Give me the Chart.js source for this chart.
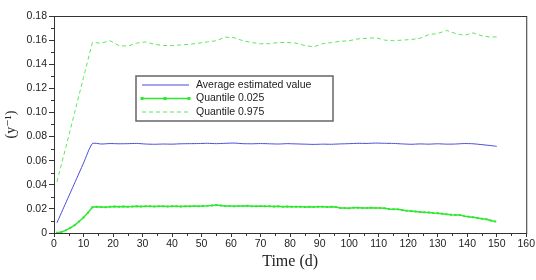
<!DOCTYPE html>
<html>
<head>
<meta charset="utf-8">
<script src="https://cdn.jsdelivr.net/npm/chart.js@4"></script>
<style>
  html, body { margin: 0; padding: 0; background: #fff; }
  #wrap { width: 536px; height: 280px; }
</style>
</head>
<body>
<div id="wrap"><canvas id="quantileChart" width="536" height="280"></canvas></div>
<script>
// time grid of the fine series (every 1.5 d) and the coarse series (every 3 d)
const fineDays = Array.from({ length: 100 }, (_, i) => 1 + 1.5 * i);
const coarseDays = [1, 4, 7, 10, 13, 16, 19, 22, 25, 28, 31, 34, 37, 40, 43, 46, 49, 52, 55, 58,
    61, 64, 67, 70, 73, 76, 79, 82, 85, 88, 91, 94, 97, 100, 103, 106, 109, 112, 115, 118,
    121, 124, 127, 130, 133, 136, 139, 142, 145, 148, 150];

const averageValue = [0.0085, 0.025, 0.0415, 0.058, 0.0742, 0.0738, 0.0742, 0.0740, 0.0741, 0.0743,
    0.0738, 0.0736, 0.0738, 0.0737, 0.0740, 0.0741, 0.0742, 0.0744, 0.0741, 0.0744,
    0.0746, 0.0741, 0.0740, 0.0742, 0.0740, 0.0738, 0.0741, 0.0739, 0.0737, 0.0735,
    0.0737, 0.0736, 0.0739, 0.0741, 0.0744, 0.0743, 0.0746, 0.0744, 0.0743, 0.0739,
    0.0736, 0.0739, 0.0737, 0.0740, 0.0737, 0.0738, 0.0742, 0.0740, 0.0733, 0.0725, 0.0719];

const quantileHigh = [0.0425, 0.071, 0.100, 0.129, 0.158, 0.1575, 0.1595, 0.1555, 0.155, 0.1575,
    0.1585, 0.1565, 0.1555, 0.1555, 0.1560, 0.1565, 0.1575, 0.1585, 0.1595, 0.1625,
    0.1620, 0.1595, 0.1580, 0.1570, 0.1570, 0.1580, 0.1580, 0.1575, 0.1555, 0.1545,
    0.1570, 0.1580, 0.1590, 0.1595, 0.1610, 0.1615, 0.1620, 0.1600, 0.1595, 0.1600,
    0.1605, 0.1615, 0.1645, 0.1655, 0.1680, 0.1655, 0.1640, 0.1660, 0.1635, 0.1625, 0.1627];

const quantileLow = [0.0002, 0.0008, 0.0022, 0.0042, 0.0065, 0.0095, 0.0128, 0.0168, 0.0213, 0.0217,
    0.0216, 0.0213, 0.0218, 0.0219, 0.0218, 0.0219, 0.0218, 0.0219, 0.0221, 0.0220,
    0.0222, 0.0221, 0.0220, 0.0222, 0.0221, 0.0220, 0.0221, 0.0222, 0.0220, 0.0221,
    0.0222, 0.0223, 0.0222, 0.0224, 0.0225, 0.0228, 0.0232, 0.0229, 0.0224, 0.0223,
    0.0221, 0.0224, 0.0223, 0.0226, 0.0222, 0.0221, 0.0223, 0.0222, 0.0221, 0.0220,
    0.0221, 0.0218, 0.0219, 0.0217, 0.0218, 0.0217, 0.0216, 0.0217, 0.0215, 0.0218,
    0.0217, 0.0216, 0.0217, 0.0215, 0.0208, 0.0207, 0.0206, 0.0209, 0.0210, 0.0207,
    0.0208, 0.0209, 0.0208, 0.0208, 0.0205, 0.0199, 0.0197, 0.0196, 0.0190, 0.0185,
    0.0182, 0.0178, 0.0175, 0.0172, 0.0170, 0.0165, 0.0163, 0.0160, 0.0155, 0.0152,
    0.0150, 0.0149, 0.0140, 0.0135, 0.0130, 0.0124, 0.0118, 0.0114, 0.0104, 0.0095];

const seriesLabels = ["Average estimated value", "Quantile 0.025", "Quantile 0.975"];

function toPoints(xs, ys) {
    return xs.map((x, i) => ({ x: x, y: ys[i] }));
}

// frame round the plot + minor ticks
const framePlugin = {
    id: "frame",
    afterDraw(chart) {
        const ctx = chart.ctx;
        const a = chart.chartArea;
        const xs = chart.scales.x;
        const ys = chart.scales.y;
        ctx.save();
        ctx.strokeStyle = "#333";
        ctx.lineWidth = 1;
        ctx.strokeRect(a.left + 0.5, a.top + 0.5, a.right - a.left, a.bottom - a.top);
        ctx.beginPath();
        for (let v = 5; v < 160; v += 10) {
            const px = Math.round(xs.getPixelForValue(v)) + 0.5;
            ctx.moveTo(px, a.bottom);
            ctx.lineTo(px, a.bottom + 3);
        }
        for (let v = 0.01; v < 0.18; v += 0.02) {
            const py = Math.round(ys.getPixelForValue(v)) + 0.5;
            ctx.moveTo(a.left, py);
            ctx.lineTo(a.left - 3, py);
        }
        ctx.stroke();
        ctx.restore();
    },
};

// legend box drawn inside the plot
const boxLegend = {
    id: "boxLegend",
    afterDraw(chart) {
        const ctx = chart.ctx;
        const left = 136, top = 76, w = 197, h = 45;
        ctx.save();
        ctx.fillStyle = "#fff";
        ctx.fillRect(left, top, w, h);
        ctx.strokeStyle = "#666";
        ctx.lineWidth = 1.5;
        ctx.strokeRect(left, top, w, h);
        ctx.font = "10.5px 'Liberation Sans', Arial, sans-serif";
        ctx.textBaseline = "middle";
        chart.data.datasets.forEach((ds, i) => {
            const y = top + 9 + i * 13.5;
            ctx.strokeStyle = ds.borderColor;
            ctx.lineWidth = ds.borderWidth;
            ctx.setLineDash(ds.borderDash || []);
            ctx.beginPath();
            ctx.moveTo(142, y);
            ctx.lineTo(189, y);
            ctx.stroke();
            ctx.setLineDash([]);
            if (ds.pointRadius > 0) {
                ctx.fillStyle = ds.borderColor;
                [142, 165, 189].forEach(px => ctx.fillRect(px - 1.5, y - 1.5, 3, 3));
            }
            ctx.fillStyle = "#222";
            ctx.fillText(ds.label, 196, y);
        });
        ctx.restore();
    },
};

new Chart(document.getElementById("quantileChart"), {
    type: "line",
    data: {
        datasets: [
            {
                label: seriesLabels[0],
                data: toPoints(coarseDays, averageValue),
                borderColor: "#4b4bdc",
                borderWidth: 1,
                pointRadius: 0,
                tension: 0.2,
            },
            {
                label: seriesLabels[1],
                data: toPoints(fineDays, quantileLow),
                borderColor: "#2ee82e",
                backgroundColor: "#2ee82e",
                borderWidth: 1.5,
                pointStyle: "rect",
                pointRadius: 1.4,
                pointBorderWidth: 0,
                tension: 0,
            },
            {
                label: seriesLabels[2],
                data: toPoints(coarseDays, quantileHigh),
                borderColor: "#5be85b",
                borderWidth: 1,
                borderDash: [4, 3],
                pointRadius: 0,
                tension: 0,
            },
        ],
    },
    options: {
        responsive: false,
        animation: false,
        layout: { padding: { top: 16, right: 8, left: 0, bottom: 9 } },
        plugins: {
            legend: { display: false },
            tooltip: { enabled: false },
        },
        scales: {
            x: {
                type: "linear",
                min: 0,
                max: 160,
                ticks: {
                    stepSize: 10,
                    color: "#222",
                    font: { family: "'Liberation Sans', Arial, sans-serif", size: 10.5 },
                    padding: 1,
                },
                grid: { drawOnChartArea: false, tickLength: 4, color: "#333" },
                border: { color: "#333" },
                title: {
                    display: true,
                    text: "Time (d)",
                    color: "#222",
                    font: { family: "'Liberation Serif', 'DejaVu Serif', serif", size: 16 },
                    padding: { top: 0, bottom: 0 },
                },
                afterFit(scale) { scale.height = 38; },
            },
            y: {
                min: 0,
                max: 0.18,
                ticks: {
                    stepSize: 0.02,
                    color: "#222",
                    font: { family: "'Liberation Sans', Arial, sans-serif", size: 10.5 },
                    padding: 2,
                },
                grid: { drawOnChartArea: false, tickLength: 5, color: "#333" },
                border: { color: "#333" },
                title: {
                    display: true,
                    text: "(y\u207B\u00B9)",
                    color: "#222",
                    font: { family: "'Liberation Serif', 'DejaVu Serif', serif", size: 14 },
                    padding: { top: 3, bottom: 0 },
                },
                afterFit(scale) { scale.width = 54; },
            },
        },
    },
    plugins: [framePlugin, boxLegend],
});
</script>
</body>
</html>
